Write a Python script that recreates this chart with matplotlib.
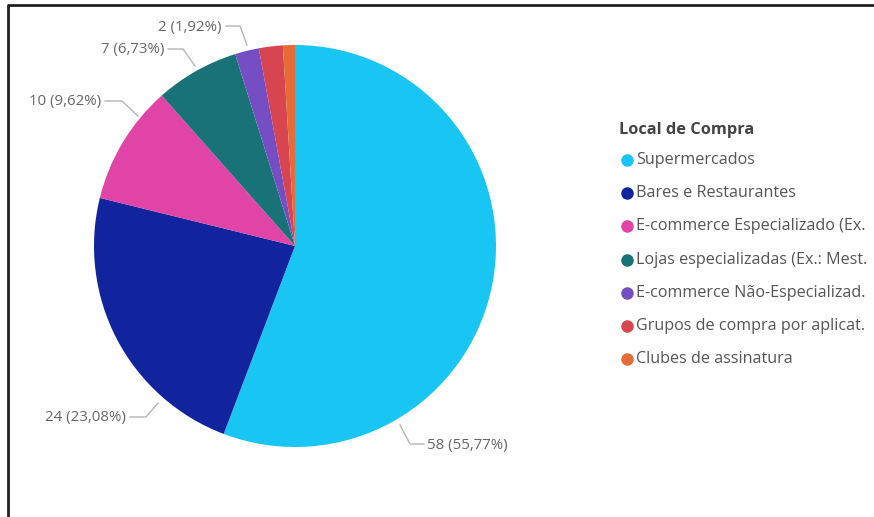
import matplotlib
matplotlib.use("Agg")
import matplotlib.pyplot as plt
from matplotlib.lines import Line2D

# ---- data ----
categories = ["Supermercados", "Bares e Restaurantes", "E-commerce Especializado (Ex.",
              "Lojas especializadas (Ex.: Mest.", "E-commerce Não-Especializad.",
              "Grupos de compra por aplicat.", "Clubes de assinatura"]
values = [58, 24, 10, 7, 2, 2, 1]
colors = ["#19C6F3", "#12239E", "#E044A7", "#197278", "#744EC2", "#D64550", "#E66C37"]
legend_title = "Local de Compra"

W, H = 874, 517
fig = plt.figure(figsize=(W / 100, H / 100), dpi=100)
ax = fig.add_axes([0, 0, 1, 1])

def Y(y):  # pixel y (top-down) -> data y
    return H - y

cx, cy, r = 295, 246, 201
ax.pie(values, colors=colors, startangle=90, counterclock=False,
       center=(cx, Y(cy)), radius=r, frame=True,
       wedgeprops=dict(linewidth=0))
ax.set_xlim(0, W)
ax.set_ylim(0, H)
ax.set_aspect("equal")
ax.axis("off")

total = sum(values)
def fmt(v):
    return f"{v} ({v / total * 100:.2f}%)".replace(".", ",")

# label layout: index -> (text anchor x, text y, ha, leader polyline in pixels)
label_layout = {
    0: (427, 446, "left", [(400, 425), (410, 444), (424, 444)]),
    1: (126, 418, "right", [(158, 403), (146, 417), (130, 417)]),
    2: (101, 102, "right", [(138, 116), (122, 101), (105, 101)]),
    3: (164, 50, "right", [(195, 66), (183, 49), (168, 49)]),
    4: (221, 28, "right", [(247, 45), (240, 26), (226, 26)]),
}
lbl_font = dict(family=["Open Sans", "DejaVu Sans"], size=10.8, color="#666666")
for i, (tx, ty, ha, pts) in label_layout.items():
    ax.add_line(Line2D([p[0] for p in pts], [Y(p[1]) for p in pts],
                       color="#B5B5B5", lw=1.0))
    ax.text(tx, Y(ty), fmt(values[i]), ha=ha, va="center", **lbl_font)

# legend
ax.text(619, Y(130), legend_title, ha="left", va="center",
        family=["Open Sans", "DejaVu Sans"], weight="bold", size=11.8, color="#444444")
for k, (name, col) in enumerate(zip(categories, colors)):
    yy = 160 + k * 33.2
    ax.plot([627], [Y(yy)], marker="o", ms=9, color=col, mec="none")
    ax.text(636, Y(yy), name, ha="left", va="center",
            family=["Open Sans", "DejaVu Sans"], size=11.6, color="#555555")

# screenshot frame (top and left border)
ax.add_line(Line2D([8, 8, W], [0, Y(5), Y(5)], color="#222222", lw=2))

fig.savefig("out.png", dpi=100, facecolor="white")
